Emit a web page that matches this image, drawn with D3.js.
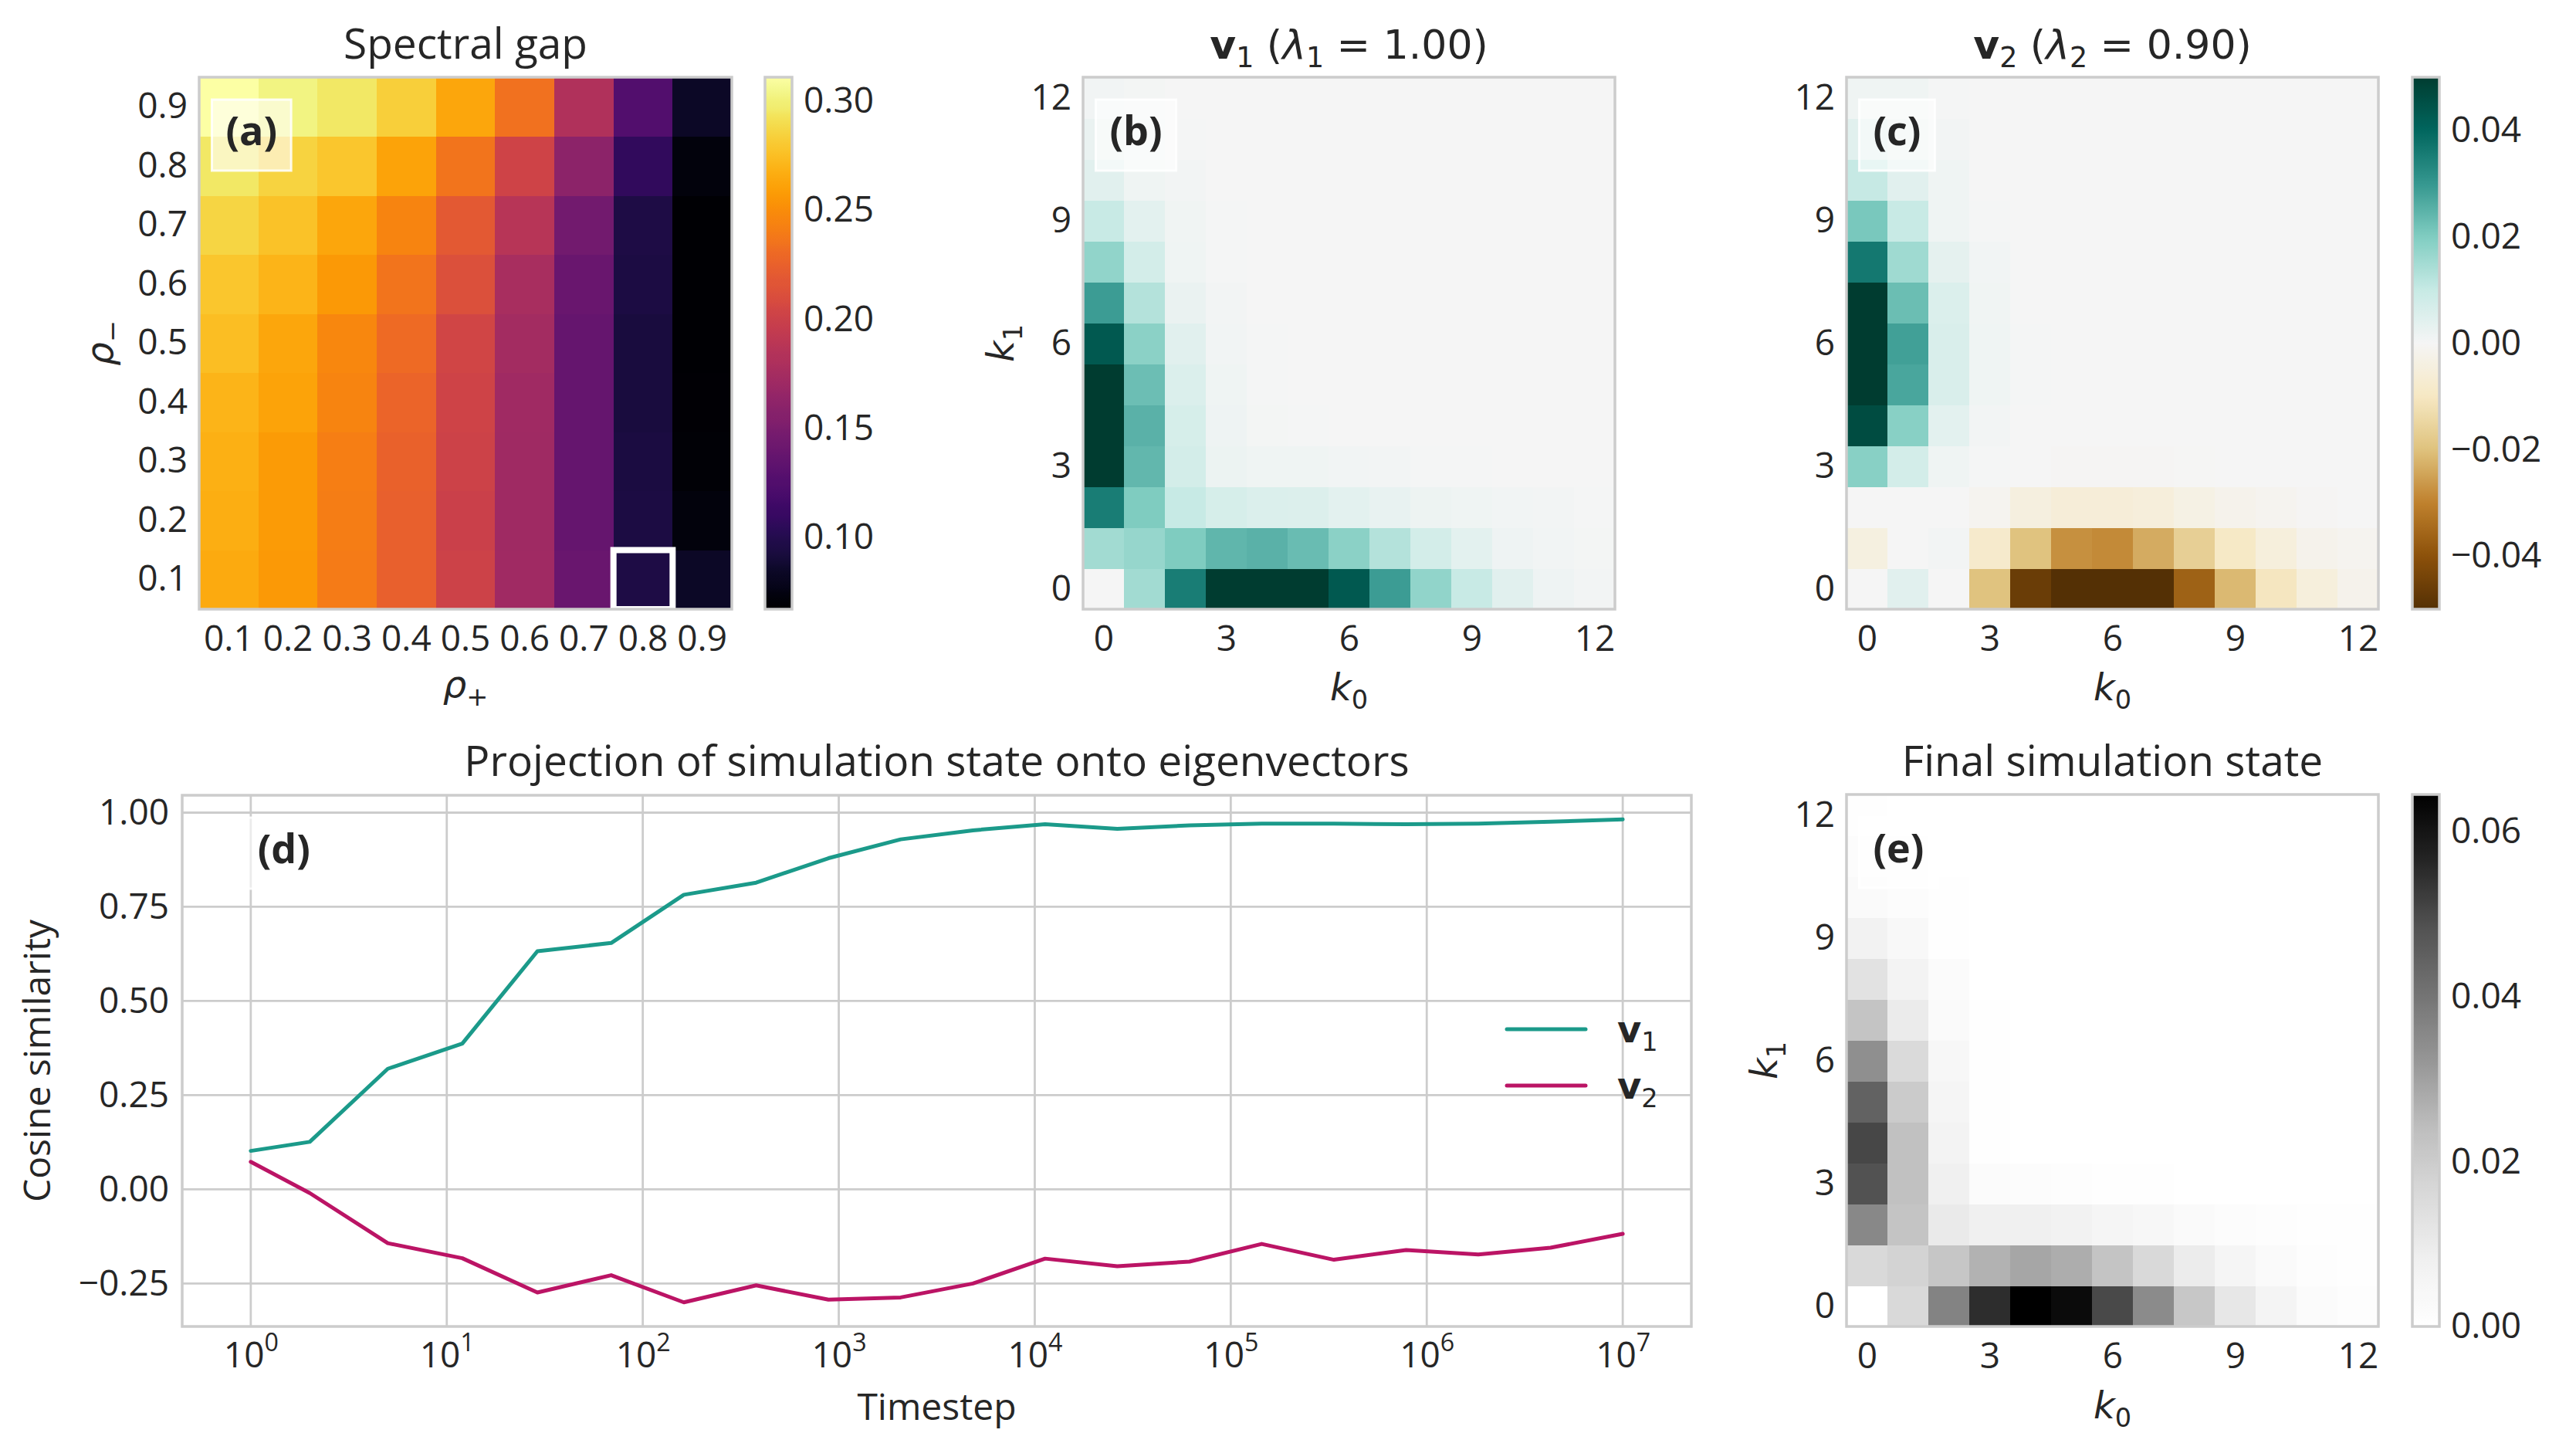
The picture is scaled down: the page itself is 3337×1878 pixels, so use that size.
<!DOCTYPE html>
<html>
<head>
<meta charset="utf-8">
<script src="https://cdn.jsdelivr.net/npm/d3@7"></script>
<style>
  body { margin: 0; background: #fff; }
  svg { display: block; font-family: "Open Sans", "Noto Sans", sans-serif; }
</style>
</head>
<body>
<svg id="fig"></svg>
<script>
// ---- data ----
const rhoLabels = ["0.1", "0.2", "0.3", "0.4", "0.5", "0.6", "0.7", "0.8", "0.9"];
// spectral gap, one row per rho_minus (0.1 .. 0.9), columns rho_plus (0.1 .. 0.9)
const gapRows = [
  [0.265, 0.256, 0.240, 0.224, 0.201, 0.172, 0.139, 0.096, 0.084],
  [0.267, 0.257, 0.241, 0.224, 0.199, 0.171, 0.137, 0.095, 0.072],
  [0.268, 0.257, 0.242, 0.225, 0.201, 0.171, 0.137, 0.094, 0.069],
  [0.270, 0.261, 0.245, 0.227, 0.202, 0.172, 0.137, 0.093, 0.068],
  [0.274, 0.263, 0.247, 0.230, 0.204, 0.174, 0.137, 0.093, 0.067],
  [0.278, 0.270, 0.256, 0.236, 0.212, 0.177, 0.139, 0.095, 0.067],
  [0.286, 0.276, 0.263, 0.245, 0.219, 0.187, 0.145, 0.096, 0.067],
  [0.295, 0.285, 0.278, 0.261, 0.236, 0.202, 0.160, 0.107, 0.072],
  [0.311, 0.302, 0.295, 0.283, 0.263, 0.234, 0.182, 0.126, 0.084]
];
const highlight = { plus: "0.8", minus: "0.1" };
const gapTicks = [0.10, 0.15, 0.20, 0.25, 0.30];

const kValues = d3.range(13);
const kTicks = [0, 3, 6, 9, 12];
// rows are k1 = 0 .. 12, columns k0 = 0 .. 12
const v1Grid = [
  [0.0000, 0.0152, 0.0353, 0.0560, 0.0600, 0.0570, 0.0430, 0.0290, 0.0176, 0.0098, 0.0043, 0.0015, 0.0006],
  [0.0152, 0.0169, 0.0202, 0.0243, 0.0251, 0.0231, 0.0185, 0.0127, 0.0074, 0.0039, 0.0015, 0.0009, 0.0004],
  [0.0353, 0.0202, 0.0100, 0.0067, 0.0057, 0.0054, 0.0039, 0.0028, 0.0017, 0.0013, 0.0009, 0.0006, 0.0002],
  [0.0560, 0.0240, 0.0074, 0.0020, 0.0013, 0.0013, 0.0009, 0.0006, 0.0003, 0.0002, 0.0001, 0, 0],
  [0.0600, 0.0251, 0.0067, 0.0015, 0.0004, 0.0002, 0.0001, 0, 0, 0, 0, 0, 0],
  [0.0570, 0.0227, 0.0057, 0.0013, 0.0003, 0.0001, 0, 0, 0, 0, 0, 0, 0],
  [0.0430, 0.0185, 0.0043, 0.0009, 0.0002, 0, 0, 0, 0, 0, 0, 0, 0],
  [0.0290, 0.0127, 0.0024, 0.0006, 0.0001, 0, 0, 0, 0, 0, 0, 0, 0],
  [0.0176, 0.0074, 0.0013, 0.0003, 0, 0, 0, 0, 0, 0, 0, 0, 0],
  [0.0098, 0.0039, 0.0011, 0.0002, 0, 0, 0, 0, 0, 0, 0, 0, 0],
  [0.0043, 0.0013, 0.0006, 0.0001, 0, 0, 0, 0, 0, 0, 0, 0, 0],
  [0.0024, 0.0009, 0.0002, 0, 0, 0, 0, 0, 0, 0, 0, 0, 0],
  [0.0009, 0.0004, 0.0001, 0, 0, 0, 0, 0, 0, 0, 0, 0, 0]
];
const v2Grid = [
  [0.0000, 0.0043, 0.0000, -0.0197, -0.0461, -0.0520, -0.0530, -0.0510, -0.0365, -0.0214, -0.0105, -0.0050, -0.0020],
  [-0.0042, 0.0000, 0.0006, -0.0082, -0.0197, -0.0277, -0.0286, -0.0235, -0.0166, -0.0095, -0.0050, -0.0020, -0.0012],
  [0.0000, 0.0000, 0.0000, -0.0012, -0.0044, -0.0058, -0.0058, -0.0052, -0.0034, -0.0020, -0.0012, -0.0004, 0],
  [0.0189, 0.0074, 0.0013, 0.0002, 0, -0.0004, -0.0004, -0.0004, -0.0002, 0, 0, 0, 0],
  [0.0462, 0.0189, 0.0039, 0.0006, 0, 0, 0, 0, 0, 0, 0, 0, 0],
  [0.0530, 0.0273, 0.0060, 0.0013, 0.0002, 0, 0, 0, 0, 0, 0, 0, 0],
  [0.0540, 0.0284, 0.0060, 0.0013, 0.0002, 0, 0, 0, 0, 0, 0, 0, 0],
  [0.0520, 0.0228, 0.0057, 0.0011, 0.0001, 0, 0, 0, 0, 0, 0, 0, 0],
  [0.0363, 0.0156, 0.0035, 0.0009, 0, 0, 0, 0, 0, 0, 0, 0, 0],
  [0.0209, 0.0098, 0.0013, 0.0002, 0, 0, 0, 0, 0, 0, 0, 0, 0],
  [0.0102, 0.0043, 0.0013, 0.0001, 0, 0, 0, 0, 0, 0, 0, 0, 0],
  [0.0043, 0.0024, 0.0006, 0, 0, 0, 0, 0, 0, 0, 0, 0, 0],
  [0.0013, 0.0013, 0.0002, 0, 0, 0, 0, 0, 0, 0, 0, 0, 0]
];
const eigTicks = [-0.04, -0.02, 0.00, 0.02, 0.04];

const finalGrid = [
  [0.0000, 0.0161, 0.0366, 0.0550, 0.0645, 0.0621, 0.0500, 0.0348, 0.0213, 0.0113, 0.0060, 0.0022, 0.0010],
  [0.0161, 0.0179, 0.0215, 0.0265, 0.0290, 0.0275, 0.0222, 0.0161, 0.0095, 0.0054, 0.0027, 0.0010, 0.0005],
  [0.0355, 0.0222, 0.0102, 0.0078, 0.0078, 0.0070, 0.0054, 0.0043, 0.0027, 0.0016, 0.0010, 0.0005, 0.0005],
  [0.0484, 0.0230, 0.0078, 0.0022, 0.0016, 0.0010, 0.0005, 0.0005, 0.0002, 0.0001, 0, 0, 0],
  [0.0504, 0.0230, 0.0065, 0.0008, 0.0002, 0, 0, 0, 0, 0, 0, 0, 0],
  [0.0445, 0.0202, 0.0054, 0.0008, 0.0001, 0, 0, 0, 0, 0, 0, 0, 0],
  [0.0339, 0.0158, 0.0043, 0.0008, 0, 0, 0, 0, 0, 0, 0, 0, 0],
  [0.0222, 0.0098, 0.0027, 0.0005, 0, 0, 0, 0, 0, 0, 0, 0, 0],
  [0.0130, 0.0065, 0.0022, 0.0002, 0, 0, 0, 0, 0, 0, 0, 0, 0],
  [0.0070, 0.0038, 0.0005, 0, 0, 0, 0, 0, 0, 0, 0, 0, 0],
  [0.0027, 0.0016, 0.0005, 0, 0, 0, 0, 0, 0, 0, 0, 0, 0],
  [0.0016, 0.0010, 0.0002, 0, 0, 0, 0, 0, 0, 0, 0, 0, 0],
  [0.0005, 0.0002, 0, 0, 0, 0, 0, 0, 0, 0, 0, 0, 0]
];
const finalTicks = [0.00, 0.02, 0.04, 0.06];

const timesteps = [1, 2, 5, 12, 29, 69, 162, 379, 886, 2069, 4833, 11288, 26367,
  61585, 143845, 335982, 784760, 1832981, 4281332, 10000000];
const v1Proj = [0.102, 0.126, 0.320, 0.387, 0.632, 0.654, 0.782, 0.814, 0.879, 0.929,
  0.953, 0.969, 0.957, 0.966, 0.971, 0.971, 0.969, 0.971, 0.976, 0.982];
const v2Proj = [0.073, -0.010, -0.143, -0.183, -0.274, -0.228, -0.300, -0.255, -0.293, -0.287,
  -0.250, -0.184, -0.204, -0.192, -0.145, -0.187, -0.161, -0.173, -0.155, -0.118];
const simYTicks = [-0.25, 0.00, 0.25, 0.50, 0.75, 1.00];
const decadeTicks = [1, 1e1, 1e2, 1e3, 1e4, 1e5, 1e6, 1e7];

// ---- colour maps ----
const brbg = ["#543005", "#8c510a", "#bf812d", "#dfc27d", "#f6e8c3", "#f5f5f5",
  "#c7eae5", "#80cdc1", "#35978f", "#01665e", "#003c30"];
const greys = ["#ffffff", "#f0f0f0", "#d9d9d9", "#bdbdbd", "#969696", "#737373",
  "#525252", "#252525", "#000000"];
const lineColors = { v1: "#1b9a8a", v2: "#bb1465" };

// ---- layout ----
const W = 3337, H = 1878;
const INK = "#262626", GRID = "#cccccc";
const MATH = "'DejaVu Sans', sans-serif";
const TICK = 46, TITLE = 55, MTITLE = 52, LABEL = 48, PANEL = 52;

const A = { x: 258, y: 100, w: 690, h: 689 };
const B = { x: 1403, y: 100, w: 689, h: 689 };
const C = { x: 2392, y: 100, w: 689, h: 689 };
const D = { x: 236, y: 1030, w: 1955, h: 688 };
const E = { x: 2392, y: 1029, w: 689, h: 689 };
const cbA = { x: 991, y: 100, w: 35, h: 689 };
const cbC = { x: 3125, y: 100, w: 35, h: 689 };
const cbE = { x: 3125, y: 1029, w: 35, h: 689 };

const svg = d3.select("#fig").attr("width", W).attr("height", H);
svg.append("rect").attr("width", W).attr("height", H).attr("fill", "#fff");
const defs = svg.append("defs");

// text with sub/superscripts and bold/italic runs
function rich(sel, parts, size) {
  let cur = 0;
  parts.forEach(p => {
    const target = p.sub ? size * 0.22 : p.sup ? -size * 0.45 : 0;
    const ts = sel.append("tspan").text(p.t);
    if (target !== cur) ts.attr("dy", target - cur);
    cur = target;
    if (p.sub || p.sup) ts.attr("font-size", size * 0.7);
    if (p.b) ts.attr("font-weight", "bold");
    if (p.i) ts.attr("font-style", "italic");
  });
  return sel;
}

function styleAxis(g) {
  g.attr("font-family", null).attr("font-size", null);
  g.select(".domain").remove();
  g.selectAll("text").attr("font-size", TICK).attr("fill", INK);
  return g;
}

function spine(box) {
  svg.append("rect").attr("x", box.x).attr("y", box.y)
    .attr("width", box.w).attr("height", box.h)
    .attr("fill", "none").attr("stroke", GRID).attr("stroke-width", 3.5);
}

function title(box, y, parts, font, size) {
  const t = svg.append("text").attr("x", box.x + box.w / 2).attr("y", y)
    .attr("text-anchor", "middle").attr("font-size", size || TITLE).attr("fill", INK);
  if (font) t.attr("font-family", font);
  rich(t, parts, size || TITLE);
}

function xLabel(box, y, parts, font) {
  const t = svg.append("text").attr("x", box.x + box.w / 2).attr("y", y)
    .attr("text-anchor", "middle").attr("font-size", LABEL).attr("fill", INK);
  if (font) t.attr("font-family", font);
  rich(t, parts, LABEL);
}

function yLabel(x, box, parts, font) {
  const cy = box.y + box.h / 2;
  const t = svg.append("text").attr("transform", `translate(${x},${cy}) rotate(-90)`)
    .attr("text-anchor", "middle").attr("font-size", LABEL).attr("fill", INK);
  if (font) t.attr("font-family", font);
  rich(t, parts, LABEL);
}

function panelLabel(box, txt) {
  const g = svg.append("g");
  const rect = g.append("rect");
  const t = g.append("text").attr("x", box.x + 0.05 * box.w).attr("y", box.y + 88)
    .attr("font-size", PANEL).attr("font-weight", "bold").attr("fill", INK).text(txt);
  const bb = t.node().getBBox();
  rect.attr("x", bb.x - 18).attr("y", box.y + 29)
    .attr("width", bb.width + 36).attr("height", 92)
    .attr("fill", "#fff").attr("fill-opacity", 0.6)
    .attr("stroke", "#fff").attr("stroke-opacity", 0.85).attr("stroke-width", 3);
}

function colorbar(box, color, domain, ticks, id) {
  const grad = defs.append("linearGradient").attr("id", id)
    .attr("x1", 0).attr("y1", 1).attr("x2", 0).attr("y2", 0);
  d3.range(129).forEach(i => {
    const f = i / 128;
    grad.append("stop").attr("offset", f)
      .attr("stop-color", color(domain[0] + f * (domain[1] - domain[0])));
  });
  svg.append("rect").attr("x", box.x).attr("y", box.y)
    .attr("width", box.w).attr("height", box.h).attr("fill", `url(#${id})`);
  const s = d3.scaleLinear().domain(domain).range([box.y + box.h, box.y]);
  svg.append("g").attr("transform", `translate(${box.x + box.w},0)`)
    .call(d3.axisRight(s).tickValues(ticks).tickSize(0).tickPadding(15).tickFormat(d3.format(".2f")))
    .call(styleAxis);
  spine(box);
}

function kHeat(box, grid, color) {
  const x = d3.scaleLinear().domain([-0.5, 12.5]).range([box.x, box.x + box.w]);
  const y = d3.scaleLinear().domain([-0.5, 12.5]).range([box.y + box.h, box.y]);
  const cells = grid.flatMap((row, k1) => row.map((v, k0) => ({ k0: kValues[k0], k1: kValues[k1], v })));
  svg.append("g").attr("shape-rendering", "crispEdges")
    .selectAll("rect").data(cells).join("rect")
    .attr("x", d => x(d.k0 - 0.5)).attr("y", d => y(d.k1 + 0.5))
    .attr("width", x(1) - x(0) + 0.6).attr("height", y(0) - y(1) + 0.6)
    .attr("fill", d => color(d.v));
  svg.append("g").attr("transform", `translate(0,${box.y + box.h})`)
    .call(d3.axisBottom(x).tickValues(kTicks).tickSize(0).tickPadding(21).tickFormat(d3.format("d")))
    .call(styleAxis);
  svg.append("g").attr("transform", `translate(${box.x},0)`)
    .call(d3.axisLeft(y).tickValues(kTicks).tickSize(0).tickPadding(15).tickFormat(d3.format("d")))
    .call(styleAxis);
}

// ---- (a) spectral gap ----
const gapExtent = d3.extent(gapRows.flat());
const inferno = d3.scaleSequential(d3.interpolateInferno).domain(gapExtent);
const xa = d3.scaleBand().domain(rhoLabels).range([A.x, A.x + A.w]);
const ya = d3.scaleBand().domain(rhoLabels.slice().reverse()).range([A.y, A.y + A.h]);
const gapCells = gapRows.flatMap((row, i) => row.map((v, j) => ({ minus: rhoLabels[i], plus: rhoLabels[j], v })));
svg.append("g").attr("shape-rendering", "crispEdges")
  .selectAll("rect").data(gapCells).join("rect")
  .attr("x", d => xa(d.plus)).attr("y", d => ya(d.minus))
  .attr("width", xa.bandwidth() + 0.6).attr("height", ya.bandwidth() + 0.6)
  .attr("fill", d => inferno(d.v));
defs.append("clipPath").attr("id", "clipA").append("rect")
  .attr("x", A.x).attr("y", A.y).attr("width", A.w).attr("height", A.h);
svg.append("rect").attr("clip-path", "url(#clipA)")
  .attr("x", xa(highlight.plus)).attr("y", ya(highlight.minus))
  .attr("width", xa.bandwidth()).attr("height", ya.bandwidth())
  .attr("fill", "none").attr("stroke", "#fff").attr("stroke-width", 8);
svg.append("g").attr("transform", `translate(0,${A.y + A.h})`)
  .call(d3.axisBottom(xa).tickSize(0).tickPadding(21)).call(styleAxis);
svg.append("g").attr("transform", `translate(${A.x},0)`)
  .call(d3.axisLeft(ya).tickSize(0).tickPadding(15)).call(styleAxis);
panelLabel(A, "(a)");
spine(A);
colorbar(cbA, inferno, gapExtent, gapTicks, "gradA");
title(A, 76, [{ t: "Spectral gap" }]);
xLabel(A, 903, [{ t: "ρ", i: true }, { t: "+", sub: true }], MATH);
yLabel(146, A, [{ t: "ρ", i: true }, { t: "−", sub: true }], MATH);

// ---- (b) v1 and (c) v2 ----
const brbgScale = d3.scaleLinear()
  .domain(d3.range(brbg.length).map(i => -0.05 + i * 0.01))
  .range(brbg).clamp(true);
kHeat(B, v1Grid, brbgScale);
panelLabel(B, "(b)");
spine(B);
title(B, 76, [{ t: "v", b: true }, { t: "1", sub: true }, { t: " (" }, { t: "λ", i: true },
  { t: "1", sub: true }, { t: " = 1.00)" }], MATH, MTITLE);
xLabel(B, 907, [{ t: "k", i: true }, { t: "0", sub: true }], MATH);
yLabel(B.x - 90, B, [{ t: "k", i: true }, { t: "1", sub: true }], MATH);

kHeat(C, v2Grid, brbgScale);
panelLabel(C, "(c)");
spine(C);
colorbar(cbC, brbgScale, [-0.05, 0.05], eigTicks, "gradC");
title(C, 76, [{ t: "v", b: true }, { t: "2", sub: true }, { t: " (" }, { t: "λ", i: true },
  { t: "2", sub: true }, { t: " = 0.90)" }], MATH, MTITLE);
xLabel(C, 907, [{ t: "k", i: true }, { t: "0", sub: true }], MATH);

// ---- (e) final simulation state ----
const finalMax = d3.max(finalGrid.flat());
const greyScale = d3.scaleLinear()
  .domain(d3.range(greys.length).map(i => i * finalMax / (greys.length - 1)))
  .range(greys).clamp(true);
kHeat(E, finalGrid, greyScale);
panelLabel(E, "(e)");
spine(E);
colorbar(cbE, greyScale, [0, finalMax], finalTicks, "gradE");
title(E, 1005, [{ t: "Final simulation state" }]);
xLabel(E, 1837, [{ t: "k", i: true }, { t: "0", sub: true }], MATH);
yLabel(E.x - 90, E, [{ t: "k", i: true }, { t: "1", sub: true }], MATH);

// ---- (d) projection over time ----
const logExt = d3.extent(timesteps, t => Math.log10(t));
const lpad = (logExt[1] - logExt[0]) * 0.05;
const xd = d3.scaleLog().domain([10 ** (logExt[0] - lpad), 10 ** (logExt[1] + lpad)]).range([D.x, D.x + D.w]);
const yExt = d3.extent(v1Proj.concat(v2Proj));
const ypad = (yExt[1] - yExt[0]) * 0.05;
const yd = d3.scaleLinear().domain([yExt[0] - ypad, yExt[1] + ypad]).range([D.y + D.h, D.y]);

const gridG = svg.append("g").attr("stroke", GRID).attr("stroke-width", 2.8);
gridG.selectAll("line.gx").data(decadeTicks).join("line").attr("class", "gx")
  .attr("x1", d => xd(d)).attr("x2", d => xd(d)).attr("y1", D.y).attr("y2", D.y + D.h);
gridG.selectAll("line.gy").data(simYTicks).join("line").attr("class", "gy")
  .attr("x1", D.x).attr("x2", D.x + D.w).attr("y1", d => yd(d)).attr("y2", d => yd(d));

const series = [
  { key: "v1", sub: "1", vals: v1Proj },
  { key: "v2", sub: "2", vals: v2Proj }
];
const line = d3.line().x(d => xd(d[0])).y(d => yd(d[1]));
svg.append("g").selectAll("path").data(series).join("path")
  .attr("d", s => line(timesteps.map((t, i) => [t, s.vals[i]])))
  .attr("fill", "none").attr("stroke", s => lineColors[s.key])
  .attr("stroke-width", 5).attr("stroke-linejoin", "round").attr("stroke-linecap", "round");

const xAxisD = svg.append("g").attr("transform", `translate(0,${D.y + D.h})`)
  .call(d3.axisBottom(xd).tickValues(decadeTicks).tickSize(0).tickPadding(20).tickFormat(d => d))
  .call(styleAxis);
xAxisD.selectAll("text").each(function (d) {
  const t = d3.select(this).text(null);
  rich(t, [{ t: "10" }, { t: String(Math.round(Math.log10(d))), sup: true }], TICK);
});
svg.append("g").attr("transform", `translate(${D.x},0)`)
  .call(d3.axisLeft(yd).tickValues(simYTicks).tickSize(0).tickPadding(17).tickFormat(d3.format(".2f")))
  .call(styleAxis);
panelLabel(D, "(d)");
spine(D);
title(D, 1005, [{ t: "Projection of simulation state onto eigenvectors" }]);
xLabel(D, 1839, [{ t: "Timestep" }]);
yLabel(65, D, [{ t: "Cosine similarity" }]);

// legend
const leg = svg.append("g").selectAll("g").data(series).join("g")
  .attr("transform", (s, i) => `translate(${D.x + D.w - 239},${D.y + 303 + i * 73})`);
leg.append("line").attr("x1", 0).attr("x2", 102).attr("y1", 0).attr("y2", 0)
  .attr("stroke", s => lineColors[s.key]).attr("stroke-width", 5).attr("stroke-linecap", "round");
leg.append("text").attr("x", 143).attr("y", 17).attr("font-size", LABEL).attr("fill", INK)
  .attr("font-family", MATH)
  .each(function (s) { rich(d3.select(this), [{ t: "v", b: true }, { t: s.sub, sub: true }], LABEL); });
</script>
</body>
</html>
